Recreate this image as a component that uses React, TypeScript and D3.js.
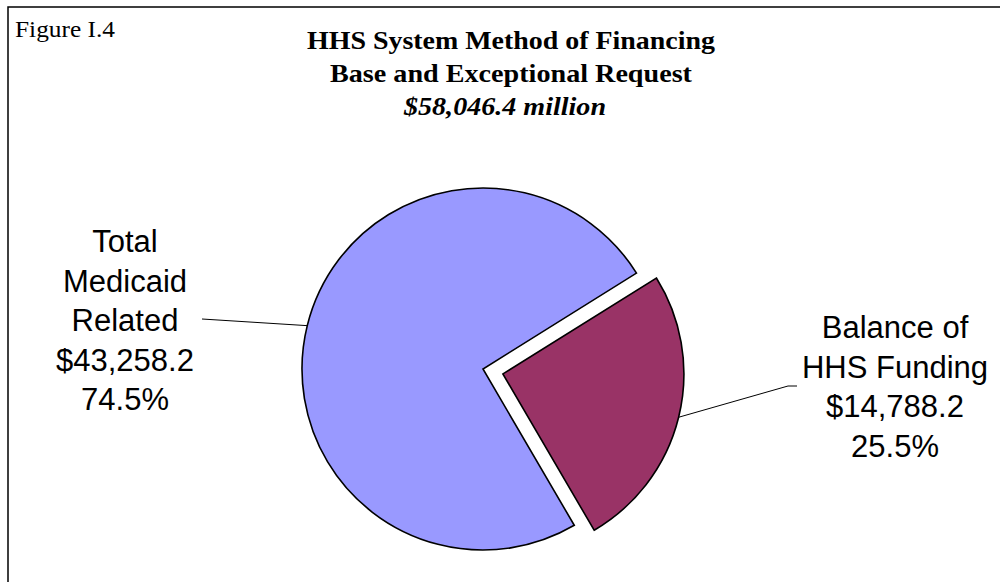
import React from "react";
import * as d3 from "d3";

const titleLines = ["HHS System Method of Financing", "Base and Exceptional Request"];
const subtitle = "$58,046.4 million";
const figureLabel = "Figure I.4";

const categories = ["Balance of HHS Funding", "Total Medicaid Related"];
const values = [14788.2, 43258.2];
const percents = ["25.5%", "74.5%"];
const amounts = ["$14,788.2", "$43,258.2"];
const labelLines = [["Balance of", "HHS Funding"], ["Total", "Medicaid", "Related"]];
const colors = ["#993366", "#9999FF"];
const explode = [20.5, 0];

export default function App() {
  const W = 1000, H = 582;
  const cx = 483, cy = 369, r = 181;
  const start = (58 * Math.PI) / 180;
  const pie = d3.pie<number>().sort(null).startAngle(start).endAngle(start + 2 * Math.PI);
  const arcs = pie(values);
  const arc = d3.arc<d3.PieArcDatum<number>>().innerRadius(0).outerRadius(r);

  const labelPos = [
    { x: 895, y: 338, lx: 788, ly: 386, hx: 797 },
    { x: 125, y: 252, lx: 202, ly: 319, hx: 202 },
  ];
  const lineH = 39.5;
  const titleLens = [408, 362];

  return (
    <svg width={W} height={H} style={{ position: "absolute", left: 0, top: 0, background: "#fff" }}>
      <rect x={8} y={7} width={1100} height={700} fill="#fff" stroke="#000" strokeWidth={1.5} />
      <text x={15} y={37} fontFamily="Liberation Serif, Times New Roman, serif" fontSize={23}
        textLength={100} lengthAdjust="spacingAndGlyphs" fill="#000">
        {figureLabel}
      </text>
      <g fontFamily="Liberation Serif, Times New Roman, serif" fontWeight="bold" fontSize={25} textAnchor="middle" fill="#000">
        {titleLines.map((t, i) => (
          <text key={i} x={511} y={49 + i * 33} textLength={titleLens[i]} lengthAdjust="spacingAndGlyphs">{t}</text>
        ))}
        <text x={505} y={115} fontStyle="italic" textLength={202} lengthAdjust="spacingAndGlyphs">{subtitle}</text>
      </g>
      {arcs.map((a, i) => {
        const mid = (a.startAngle + a.endAngle) / 2;
        const dx = Math.sin(mid) * explode[i];
        const dy = -Math.cos(mid) * explode[i];
        const ex = cx + dx + Math.sin(mid) * r;
        const ey = cy + dy - Math.cos(mid) * r;
        const lp = labelPos[i];
        return (
          <g key={i}>
            <path
              d={arc(a) || ""}
              transform={`translate(${cx + dx},${cy + dy})`}
              fill={colors[i]}
              stroke="#000"
              strokeWidth={1.6}
              strokeLinejoin="miter"
            />
            <polyline
              points={`${ex},${ey} ${lp.lx},${lp.ly} ${lp.hx},${lp.ly}`}
              fill="none"
              stroke="#000"
              strokeWidth={1}
            />
          </g>
        );
      })}
      {arcs.map((a, i) => {
        const lp = labelPos[i];
        const lines = [...labelLines[i], amounts[i], percents[i]];
        return (
          <text key={i} fontFamily="Liberation Sans, Arial, sans-serif" fontSize={31} textAnchor="middle" fill="#000">
            {lines.map((t, j) => (
              <tspan key={j} x={lp.x} y={lp.y + j * lineH}>{t}</tspan>
            ))}
          </text>
        );
      })}
    </svg>
  );
}
